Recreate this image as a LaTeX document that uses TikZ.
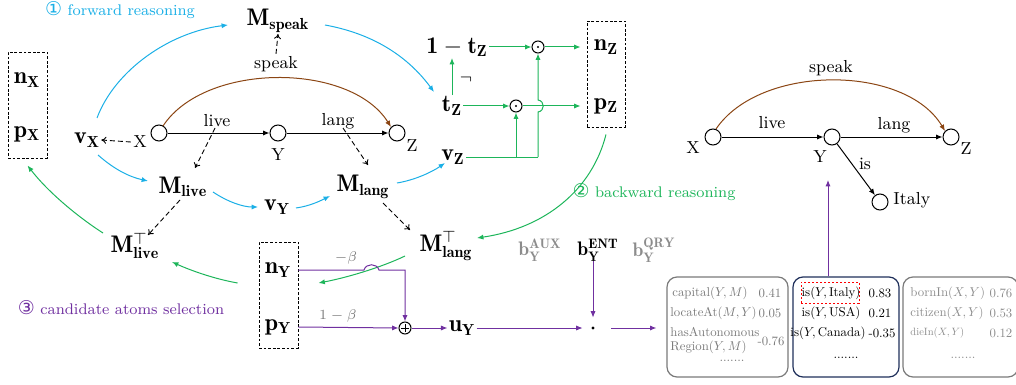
\documentclass[tikz,border=0pt]{standalone}
\usepackage{graphicx}
\usepackage{fontspec}
\newfontfamily\dejavu{DejaVu Sans}
\usetikzlibrary{arrows.meta,calc}
\definecolor{fwd}{HTML}{1AAFE6}
\definecolor{bwd}{HTML}{1DB55A}
\definecolor{brn}{HTML}{8B4513}
\definecolor{pur}{HTML}{7030A0}
\definecolor{nav}{HTML}{1F2F5A}
\definecolor{gtx}{HTML}{7A7A7A}
\definecolor{gtl}{HTML}{8C8C8C}
\newcommand{\bxs}[1]{\scalebox{0.64}{#1}}
\newcommand{\cnum}[1]{{\dejavu\fontsize{9.5}{11}\selectfont #1}}
\begin{document}
\begin{tikzpicture}[x=0.5pt,y=-0.5pt,
 every node/.style={inner sep=1pt},
 mth/.style={font=\fontsize{12}{14}\selectfont,inner sep=0.5pt},
 lbl/.style={font=\fontsize{8.7}{10}\selectfont},
 ann/.style={font=\fontsize{7.7}{9}\selectfont},
 cn/.style={circle,draw,minimum size=8pt,inner sep=0pt,line width=0.5pt},
 arr/.style={-{Latex[length=3.2pt,width=2.6pt]},line width=0.5pt},
 darr/.style={dash pattern=on 2.5pt off 1.5pt,-{To[length=2.5pt,width=3.5pt]},line width=0.45pt},
 dbox/.style={draw,dash pattern=on 1.4pt off 0.9pt,line width=0.45pt,inner sep=0pt},
 fw/.style={arr,color=fwd}, bw/.style={arr,color=bwd}, pu/.style={arr,color=pur},
 od/.style={circle,draw,minimum size=6pt,inner sep=0pt,line width=0.5pt,
   path picture={\fill (path picture bounding box.center) circle (0.55pt);}},
 op/.style={circle,draw,minimum size=6pt,inner sep=0pt,line width=0.5pt,
   path picture={\draw[line width=0.4pt] ([xshift=-1.8pt]path picture bounding box.center) -- ([xshift=1.8pt]path picture bounding box.center) ([yshift=-1.8pt]path picture bounding box.center) -- ([yshift=1.8pt]path picture bounding box.center);}},
 rbox/.style={draw,rounded corners=5pt,line width=0.6pt},
 bt/.style={font=\fontsize{10}{12}\selectfont,inner sep=0pt},
 gl/.style={font=\fontsize{7}{8}\selectfont,text=gtx},
 bb/.style={font=\fontsize{9.8}{12}\selectfont,inner sep=0pt},
]
\useasboundingbox (0,0) rectangle (1016,385);

% ---------- annotations ----------
\node[ann,text=fwd] (fwdt) at (120,10) {\cnum{①} forward reasoning};
\node[ann,text=bwd] (bwdt) at (654,192) {\cnum{②} backward reasoning};
\node[ann,text=pur] (selt) at (121,308) {\cnum{③} candidate atoms selection};

% ---------- left graph ----------
\node[mth] (nX) at (27,80) {$\mathbf{n}_{\mathbf{X}}$};
\node[mth] (pX) at (27,134) {$\mathbf{p}_{\mathbf{X}}$};
\node[dbox,minimum width=19.5pt,minimum height=53pt] (BX) at (27.5,105) {};

\node[mth] (vX) at (87,140) {$\mathbf{v}_{\mathbf{X}}$};
\node[lbl] (Xt) at (140,142) {X};
\node[cn] (X) at (159,133) {};
\node[cn] (Y) at (278,133) {};
\node[cn] (Z) at (397,133) {};
\node[lbl] (Yl) at (278,155) {Y};
\node[lbl] (Zl) at (412,146) {Z};
\node[lbl] (live) at (217,121) {live};
\node[lbl] (lang) at (338,121) {lang};
\node[lbl] (speak) at (276,64) {speak};

\node[mth] (Mspeak) at (278,21) {$\mathbf{M}_{\mathbf{speak}}$};
\node[mth] (Mlive) at (183,187) {$\mathbf{M}_{\mathbf{live}}$};
\node[mth] (vY) at (277,207) {$\mathbf{v}_{\mathbf{Y}}$};
\node[mth] (Mlang) at (363,187) {$\mathbf{M}_{\mathbf{lang}}$};
\node[mth] (MliveT) at (135,246) {$\mathbf{M}_{\mathbf{live}}^{\top}$};
\node[mth] (MlangT) at (446,246) {$\mathbf{M}_{\mathbf{lang}}^{\top}$};

\node[mth] (omt) at (457,47) {$\mathbf{1}-\mathbf{t}_{\mathbf{Z}}$};
\node[mth] (tZ) at (452,106) {$\mathbf{t}_{\mathbf{Z}}$};
\node[mth] (vZ) at (453,157) {$\mathbf{v}_{\mathbf{Z}}$};
\node[lbl] (neg) at (466,80) {$\neg$};
\node[od] (o1) at (538,47) {};
\node[od] (o2) at (516,106) {};
\node[mth] (nZ) at (606,47) {$\mathbf{n}_{\mathbf{Z}}$};
\node[mth] (pZ) at (606,106) {$\mathbf{p}_{\mathbf{Z}}$};
\node[dbox,minimum width=19pt,minimum height=53pt] (BZ) at (606,74) {};

\node[mth] (nY) at (278,270) {$\mathbf{n}_{\mathbf{Y}}$};
\node[mth] (pY) at (278,327) {$\mathbf{p}_{\mathbf{Y}}$};
\node[dbox,minimum width=19.5pt,minimum height=53pt] (BY) at (278.5,295) {};
\node[op] (opl) at (405,328) {};
\node[mth] (uY) at (462,328) {$\mathbf{u}_{\mathbf{Y}}$};
\node[circle,minimum size=10pt,inner sep=0pt] (dot) at (593,328) {};
\fill (dot) circle (0.8pt);
\node[bb] (bENT) at (598,250) {$\mathbf{b}_{\mathbf{Y}}^{\mathbf{ENT}}$};
\node[bb,text=gtl] (bAUX) at (540,250) {$\mathbf{b}_{\mathbf{Y}}^{\mathbf{AUX}}$};
\node[bb,text=gtl] (bQRY) at (654,250) {$\mathbf{b}_{\mathbf{Y}}^{\mathbf{QRY}}$};
\node[gl] (mb) at (346,258) {$-\beta$};
\node[gl] (omb) at (338,316) {$1-\beta$};

% edges of left graph
\draw[arr] (X) -- (Y);
\draw[arr] (Y) -- (Z);
\draw[arr,color=brn] ($(X)+(4,-7)$) .. controls (205,62) and (350,62) .. ($(Z)+(-6,-6)$);
\draw[darr] (Xt.west) -- (vX.east);
\draw[darr] (speak.north) -- (Mspeak.south);
\draw[darr] ($(live)+(-2,7)$) -- ($(Mlive)+(12,-19)$);
\draw[darr] ($(lang)+(5,7)$) -- ($(Mlang)+(5,-22)$);
\draw[darr] ($(Mlive)+(-3,13)$) -- ($(MliveT)+(13,-11)$);
\draw[darr] ($(Mlang)+(20,16)$) -- ($(MlangT)+(-36,-16)$);

% forward (cyan)
\draw[fw] ($(vX)+(10,-22)$) .. controls (115,70) and (170,32) .. ($(Mspeak)+(-50,4)$);
\draw[fw] ($(Mspeak)+(47,4)$) .. controls (380,35) and (412,62) .. ($(tZ)+(-18,-14)$);
\draw[fw] ($(vX)+(11,15)$) .. controls (115,170) and (130,177) .. ($(Mlive)+(-35,-6)$);
\draw[fw] ($(Mlive)+(30,5)$) .. controls (228,202) and (243,207) .. ($(vY)+(-19,0)$);
\draw[fw] ($(vY)+(19,1)$) .. controls (310,206) and (320,201) .. ($(Mlang)+(-33,9)$);
\draw[fw] ($(Mlang)+(34,-4)$) .. controls (415,180) and (432,172) .. ($(vZ)+(-8,6)$);

% gating (green)
\coordinate (j1) at (538,157);
\coordinate (j2) at (516,157);
\draw[bw] (tZ.north) -- (omt.south -| tZ);
\draw[bw] (omt.east) -- (o1.west);
\draw[bw] (o1.east) -- ([xshift=-3pt]BZ.west |- o1);
\draw[bw] (tZ.east) -- (o2.west);
\draw[bw] (o2.east) -- ([xshift=-3pt]BZ.west |- o2);
\draw[bwd,line width=0.5pt] (vZ.east) -- (j1);
\draw[bw] (j1) -- (538,112) .. controls (545,111) and (545,101) .. (538,100) -- (o1.south);
\draw[bw] (j2) -- (o2.south);

% backward (green)
\draw[bw] ($(BZ.south)+(0,7)$) .. controls (592,190) and (545,228) .. ($(MlangT)+(31,-8)$);
\draw[bw] ($(MlangT)+(-41,10)$) .. controls (380,268) and (345,278) .. ($(BY.east)+(20,-12)$);
\draw[bw] ($(BY.west)+(-21,-12)$) .. controls (215,279) and (192,271) .. ($(MliveT)+(37,16)$);
\draw[bw] ($(MliveT)+(-32,-13)$) .. controls (78,217) and (48,192) .. ($(BX.south)+(0,7)$);

% selection (purple)
\draw[pu] (BY.east |- nY) -- (364,270) .. controls (366,263) and (377,263) .. (379,270) -- (opl.north |- nY) -- (opl.north);
\draw[pu] (BY.east |- pY) -- (opl.west);
\draw[pu] (opl.east) -- (uY.west);
\draw[pu] (uY.east) -- (dot.west);
\draw[pu] (dot |- bENT.south) -- (dot.north);

% ---------- candidate boxes ----------
\node[rbox,draw=gtx,minimum width=60.5pt,minimum height=50pt] (B1) at (727.5,327) {};
\node[rbox,draw=nav,minimum width=53pt,minimum height=50pt] (B2) at (846,327) {};
\node[rbox,draw=gtx,minimum width=57.5pt,minimum height=50pt] (B3) at (960.5,327) {};
\draw[pu] ([xshift=4pt]dot.east) -- ([xshift=-5pt]B1.west |- dot);

\node[bt,text=gtx,anchor=west] (c1) at (672,293) {\bxs{capital$(Y,M)$}};
\node[bt,text=gtx] (c1v) at (770,293) {\bxs{0.41}};
\node[bt,text=gtx,anchor=west] (c2) at (670,313) {\bxs{locateAt$(M,Y)$}};
\node[bt,text=gtx] (c2v) at (770,313) {\bxs{0.05}};
\node[bt,text=gtx,anchor=west] (c3a) at (670,332) {\bxs{hasAutonomous}};
\node[bt,text=gtx,anchor=west] (c3b) at (670,347) {\bxs{Region$(Y,M)$}};
\node[bt,text=gtx] (c3v) at (771,341) {\bxs{-0.76}};
\node[bt,text=gtx] (c4) at (732,361) {\bxs{.......}};

\node[bt] (d1) at (831,293) {\bxs{is$(Y,\mathrm{Italy})$}};
\node[draw=red,dash pattern=on 1.2pt off 0.8pt,line width=0.5pt,minimum width=29pt,minimum height=10.5pt,inner sep=0pt] (red) at (830,292.5) {};
\node[bt] (d1v) at (880,293) {\bxs{0.83}};
\node[bt] (d2) at (831,313) {\bxs{is$(Y,\mathrm{USA})$}};
\node[bt] (d2v) at (880,313) {\bxs{0.21}};
\node[bt] (d3) at (828,333) {\bxs{is$(Y,\mathrm{Canada})$}};
\node[bt] (d3v) at (882,333) {\bxs{-0.35}};
\node[bt] (d4) at (846,358) {\bxs{.......}};

\node[bt,text=gtl,anchor=west] (e1) at (910,293) {\bxs{bornIn$(X,Y)$}};
\node[bt,text=gtl] (e1v) at (1001,293) {\bxs{0.76}};
\node[bt,text=gtl,anchor=west] (e2) at (910,313) {\bxs{citizen$(X,Y)$}};
\node[bt,text=gtl] (e2v) at (1001,313) {\bxs{0.53}};
\node[bt,text=gtl,anchor=west] (e3) at (910,333) {\scalebox{0.53}{dieIn$(X,Y)$}};
\node[bt,text=gtl] (e3v) at (1001,333) {\bxs{0.12}};
\node[bt,text=gtl] (e4) at (963,358) {\bxs{.......}};

% ---------- right graph ----------
\node[cn] (RX) at (713,137) {};
\node[cn] (RY) at (832,137) {};
\node[cn] (RZ) at (951,137) {};
\node[cn] (RI) at (880,202) {};
\node[lbl] (RXl) at (693,148) {X};
\node[lbl] (RYl) at (820,157) {Y};
\node[lbl] (RZl) at (966,149) {Z};
\node[lbl,anchor=west] (RIl) at (891,200) {Italy};
\node[lbl] (ris) at (865,164) {is};
\node[lbl] (rlive) at (772,123) {live};
\node[lbl] (rlang) at (894,125) {lang};
\node[lbl] (rspeak) at (831,68) {speak};
\draw[arr] (RX) -- (RY);
\draw[arr] (RY) -- (RZ);
\draw[arr] (RY) -- (RI);
\draw[arr,color=brn] ($(RX)+(3,-8)$) .. controls (760,64) and (905,64) .. ($(RZ)+(-6,-6)$);
\coordinate (pt) at (828,180);
\draw[pu] (B2.north -| pt) -- (pt);
\end{tikzpicture}
\end{document}
